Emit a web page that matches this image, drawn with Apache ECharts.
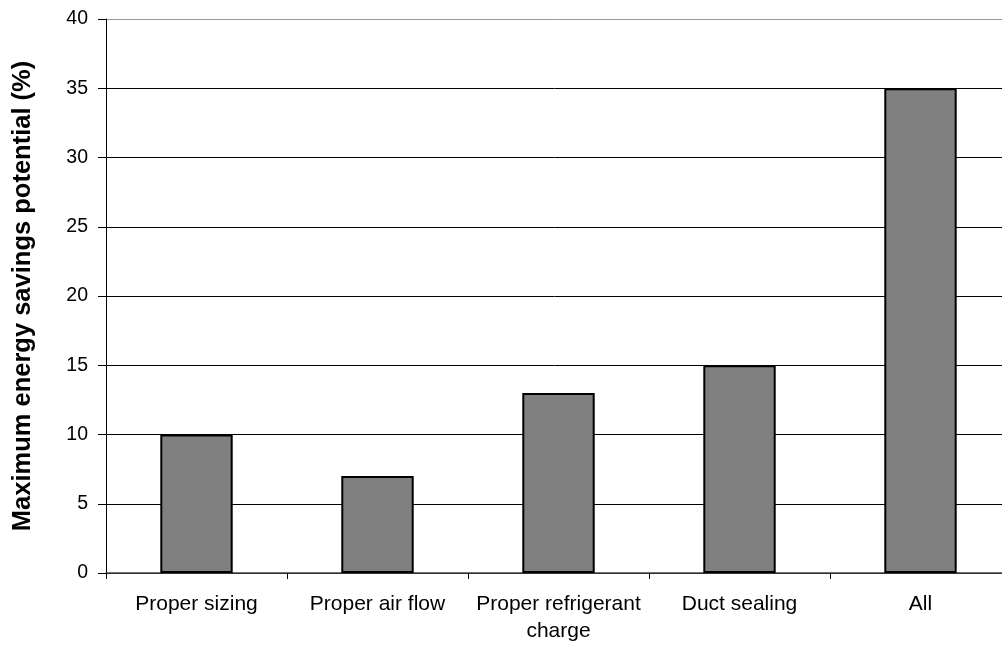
<!DOCTYPE html>
<html><head><meta charset="utf-8">
<script src="https://cdn.jsdelivr.net/npm/echarts@6/dist/echarts.min.js"></script>
<style>html,body{margin:0;padding:0;background:#fff}#c{width:1002px;height:645px}</style>
</head><body><div id="c"></div>
<script>
const categories = ['Proper sizing', 'Proper air flow', 'Proper refrigerant\ncharge', 'Duct sealing', 'All'];
const savings = [10, 7, 13, 15, 35];
const yTicks = {min: 0, max: 40, interval: 5};

const chart = echarts.init(document.getElementById('c'));
chart.setOption({
  animation: false,
  grid: {left: 106, width: 905, top: 19, height: 554, containLabel: false, outerBoundsMode: 'none'},
  xAxis: {
    type: 'category', data: categories,
    axisLine: {lineStyle: {color: '#444', width: 1.5}},
    axisTick: {show: true, length: 6, lineStyle: {color: '#000'}},
    axisLabel: {color: '#000', fontFamily: 'Liberation Sans, Arial', fontSize: 21, margin: 18, lineHeight: 27, interval: 0}
  },
  yAxis: {
    type: 'value', min: yTicks.min, max: yTicks.max, interval: yTicks.interval,
    name: 'Maximum energy savings potential (%)', nameLocation: 'middle', nameGap: 70,
    nameTextStyle: {color: '#000', fontFamily: 'Liberation Sans, Arial', fontSize: 25.5, fontWeight: 'bold'},
    axisLine: {show: true, lineStyle: {color: '#000', width: 1}},
    axisTick: {show: true, length: 8, lineStyle: {color: '#000'}},
    axisLabel: {color: '#000', fontFamily: 'Liberation Sans, Arial', fontSize: 19.5, margin: 18},
    splitLine: {show: true, lineStyle: {color: ['#000','#000','#000','#000','#000','#000','#000','#000','#999'], width: 1}}
  },
  series: [{
    type: 'bar', data: savings, barWidth: '40%',
    itemStyle: {color: '#808080', borderColor: '#000', borderWidth: 2}
  }]
});
</script></body></html>
